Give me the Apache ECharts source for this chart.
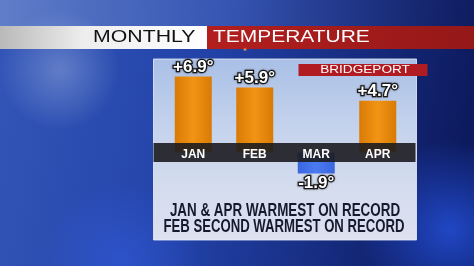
<!DOCTYPE html>
<html>
<head>
<meta charset="utf-8">
<script src="https://cdn.jsdelivr.net/npm/echarts@6/dist/echarts.min.js"></script>
<style>
html,body{margin:0;padding:0;background:#1a2f8a;}
#chart{width:474px;height:266px;}
</style>
</head>
<body>
<div id="chart"></div>
<script>
// ---- data ----
var months = ['JAN', 'FEB', 'MAR', 'APR'];
var departures = [6.9, 5.9, -1.9, 4.7];
var titleLeft = 'MONTHLY';
var titleRight = 'TEMPERATURE';
var station = 'BRIDGEPORT';
var noteLines = ['JAN & APR WARMEST ON RECORD', 'FEB SECOND WARMEST ON RECORD'];

var chart = echarts.init(document.getElementById('chart'), null, {renderer: 'canvas'});

function fmt(v) {
  return (v > 0 ? '+' : '') + v.toFixed(1) + '\u00B0';
}

var orange = {type: 'linear', x: 0, y: 0, x2: 1, y2: 0, colorStops: [
  {offset: 0, color: '#d97a06'}, {offset: 0.5, color: '#f29414'}, {offset: 1, color: '#d97a06'}]};
var blue = {type: 'linear', x: 0, y: 0, x2: 1, y2: 0, colorStops: [
  {offset: 0, color: '#3a66e0'}, {offset: 0.5, color: '#4a7af0'}, {offset: 1, color: '#3a66e0'}]};

var barData = departures.map(function (v) {
  return {
    value: v,
    itemStyle: {color: v >= 0 ? orange : blue},
    label: {position: v >= 0 ? 'top' : 'bottom'}
  };
});

var font = 'Liberation Sans, Arial, sans-serif';
var yMin = -4, yMax = 8;

var option = {
  animation: false,
  grid: {left: 162.5, width: 246, top: 64.5, height: 132},
  xAxis: {
    type: 'category',
    data: months,
    z: 10,
    // place the label row on the zero line (grid bottom is 4 units = 44px below zero)
    offset: -132 * (0 - yMin) / (yMax - yMin),
    axisLine: {show: false, onZero: false},
    axisTick: {show: false},
    axisLabel: {
      color: '#ffffff', fontFamily: font, fontWeight: 'bold', fontSize: 12,
      verticalAlign: 'middle', margin: 2
    },
    splitLine: {show: false}
  },
  yAxis: {
    type: 'value', min: yMin, max: yMax, interval: 2, show: false,
    splitLine: {show: false}
  },
  series: [{
    type: 'bar',
    data: barData,
    barWidth: 37,
    z: 2,
    label: {
      show: true,
      distance: 1,
      formatter: function (p) { return fmt(p.value); },
      color: '#ffffff',
      fontFamily: font,
      fontWeight: 'bold',
      fontSize: 17,
      textBorderColor: '#1a1a1a',
      textBorderWidth: 2.5,
      textShadowColor: 'rgba(0,0,0,0.5)',
      textShadowBlur: 2
    }
  }],
  graphic: [
    // background
    {type: 'rect', z: 0, shape: {x: 0, y: 0, width: 474, height: 266},
      style: {fill: {type: 'linear', x: 0, y: 0, x2: 1, y2: 0.3, colorStops: [
        {offset: 0, color: '#3356b8'}, {offset: 0.45, color: '#2242a8'}, {offset: 1, color: '#0d1a5e'}]}}},
    {type: 'rect', z: 0, shape: {x: 0, y: 0, width: 474, height: 30},
      style: {fill: {type: 'linear', x: 0, y: 0, x2: 1, y2: 0, colorStops: [
        {offset: 0, color: 'rgba(140,165,215,0.5)'}, {offset: 0.5, color: 'rgba(90,120,200,0.35)'}, {offset: 1, color: 'rgba(20,30,90,0.2)'}]}}},
    {type: 'circle', z: 0, shape: {cx: 60, cy: 70, r: 60},
      style: {fill: {type: 'radial', x: 0.5, y: 0.5, r: 0.5, colorStops: [
        {offset: 0, color: 'rgba(160,180,225,0.45)'}, {offset: 1, color: 'rgba(160,180,225,0)'}]}}},
    {type: 'circle', z: 0, shape: {cx: 450, cy: 230, r: 90},
      style: {fill: {type: 'radial', x: 0.5, y: 0.5, r: 0.5, colorStops: [
        {offset: 0, color: 'rgba(40,90,240,0.7)'}, {offset: 1, color: 'rgba(40,90,240,0)'}]}}},
    {type: 'circle', z: 0, shape: {cx: 120, cy: 260, r: 80},
      style: {fill: {type: 'radial', x: 0.5, y: 0.5, r: 0.5, colorStops: [
        {offset: 0, color: 'rgba(50,90,220,0.6)'}, {offset: 1, color: 'rgba(50,90,220,0)'}]}}},
    // title bar
    {type: 'rect', z: 1, shape: {x: 0, y: 26, width: 207, height: 23},
      style: {fill: {type: 'linear', x: 0, y: 0, x2: 1, y2: 0, colorStops: [
        {offset: 0, color: '#b9b9b9'}, {offset: 0.4, color: '#ededed'}, {offset: 1, color: '#ffffff'}]}}},
    {type: 'rect', z: 1, shape: {x: 207, y: 26, width: 267, height: 23},
      style: {fill: {type: 'linear', x: 0, y: 0, x2: 1, y2: 0, colorStops: [
        {offset: 0, color: '#b31f1f'}, {offset: 1, color: '#951818'}]}}},
    {type: 'ellipse', z: 1, shape: {cx: 245, cy: 49.5, rx: 14, ry: 2.2},
      style: {fill: {type: 'radial', x: 0.5, y: 0.5, r: 0.5, colorStops: [
        {offset: 0, color: 'rgba(255,190,90,0.95)'}, {offset: 1, color: 'rgba(255,140,40,0)'}]}}},
    {type: 'text', z: 2, x: 93, y: 38, scaleX: 1.33,
      style: {text: titleLeft, fill: '#111111', font: '16px ' + font, textAlign: 'left', textVerticalAlign: 'middle'}},
    {type: 'text', z: 2, x: 213, y: 38, scaleX: 1.31,
      style: {text: titleRight, fill: '#ffffff', font: '16px ' + font, textAlign: 'left', textVerticalAlign: 'middle'}},
    // panel
    {type: 'rect', z: 1, shape: {x: 153.5, y: 59, width: 263, height: 181},
      style: {fill: {type: 'linear', x: 0, y: 0, x2: 0, y2: 1, colorStops: [
        {offset: 0, color: '#a9bfe6'}, {offset: 0.35, color: '#c3d2ec'}, {offset: 0.7, color: '#d4dcee'}, {offset: 1, color: '#dde1f0'}]},
        stroke: 'rgba(235,240,250,0.8)', lineWidth: 1}},
    {type: 'text', z: 1, x: 285, y: 211.5, scaleX: 0.745,
      style: {text: noteLines[0], fill: '#151a2c', font: 'bold 18px ' + font, textAlign: 'center', textVerticalAlign: 'middle'}},
    {type: 'text', z: 1, x: 284, y: 227.5, scaleX: 0.73,
      style: {text: noteLines[1], fill: '#151a2c', font: 'bold 18px ' + font, textAlign: 'center', textVerticalAlign: 'middle'}},
    // station tag
    {type: 'rect', z: 3, shape: {x: 298.5, y: 64, width: 129, height: 12},
      style: {fill: '#b01c22'}},
    {type: 'text', z: 4, x: 365, y: 70.5, scaleX: 1.36,
      style: {text: station, fill: '#ffffff', font: '10px ' + font, textAlign: 'center', textVerticalAlign: 'middle'}},
    // dark label band over bars
    {type: 'rect', z: 5, shape: {x: 153.5, y: 143, width: 262, height: 19},
      style: {fill: 'rgba(28,28,32,0.9)'}}
  ]
};
chart.setOption(option);
</script>
</body>
</html>
